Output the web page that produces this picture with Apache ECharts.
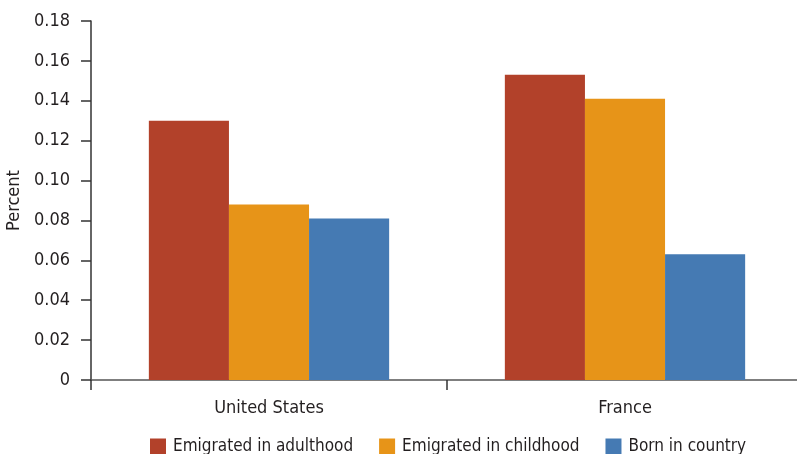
<!DOCTYPE html>
<html>
<head>
<meta charset="utf-8">
<script src="https://cdn.jsdelivr.net/npm/echarts@6/dist/echarts.min.js"></script>
<style>
  html, body { margin: 0; padding: 0; background: #fff; }
  #main { width: 797px; height: 454px; }
</style>
</head>
<body>
<div id="main"></div>
<script type="text/javascript">
    // data
    var countries = ['United States', 'France'];
    var adulthood = [0.130, 0.153];
    var childhood = [0.088, 0.141];
    var born = [0.081, 0.063];
    var seriesNames = ['Emigrated in adulthood', 'Emigrated in childhood', 'Born in country'];
    var colors = ['#b2412a', '#e79418', '#457ab3'];

    var FONT = '"DejaVu Sans Condensed", "Liberation Sans Narrow", sans-serif';
    var TXT = '#231f20';

    var myChart = echarts.init(document.getElementById('main'));

    var option = {
        animation: false,
        textStyle: { fontFamily: FONT },
        grid: { left: 91, top: 21, width: 712, height: 359, outerBoundsMode: 'none', containLabel: false },
        legend: {
            data: seriesNames,
            left: 145,
            top: 433,
            width: 700,
            itemWidth: 16,
            itemHeight: 16,
            itemGap: 26,
            icon: 'rect',
            textStyle: { fontFamily: FONT, fontSize: 17, color: TXT, padding: [0, 0, 0, 2] }
        },
        xAxis: {
            type: 'category',
            data: countries,
            axisLine: { lineStyle: { color: '#555', width: 1.5 } },
            axisTick: { show: true, length: 10, lineStyle: { color: '#333', width: 1.5 } },
            axisLabel: { fontSize: 18, color: TXT, margin: 19, fontFamily: FONT }
        },
        yAxis: {
            type: 'value',
            min: 0,
            max: 0.18,
            interval: 0.02,
            name: 'Percent',
            nameLocation: 'middle',
            nameGap: 63,
            nameTextStyle: { fontSize: 18, color: TXT, fontFamily: FONT },
            splitLine: { show: false },
            axisLine: { show: true, lineStyle: { color: '#333', width: 1.5 } },
            axisTick: { show: true, length: 10, lineStyle: { color: '#333', width: 1.5 } },
            axisLabel: {
                fontSize: 18, color: TXT, margin: 21, fontFamily: FONT,
                formatter: function (v) { return v === 0 ? '0' : v.toFixed(2); }
            }
        },
        series: [
            { name: seriesNames[0], type: 'bar', data: adulthood, itemStyle: { color: colors[0] }, barGap: '0%', barCategoryGap: '32.5%' },
            { name: seriesNames[1], type: 'bar', data: childhood, itemStyle: { color: colors[1] }, barGap: '0%', barCategoryGap: '32.5%' },
            { name: seriesNames[2], type: 'bar', data: born, itemStyle: { color: colors[2] }, barGap: '0%', barCategoryGap: '32.5%' }
        ]
    };
    myChart.setOption(option);
</script>
</body>
</html>
